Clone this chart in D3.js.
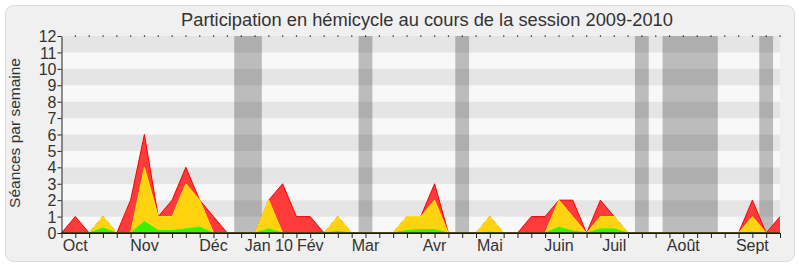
<html>
<head>
<meta http-equiv="content-type" content="text/html; charset=UTF8">
<title>Participation en hémicycle</title>
<script src="https://cdnjs.cloudflare.com/ajax/libs/d3/7.8.5/d3.min.js"></script>
<style type="text/css">
body { margin: 0; padding: 0; background: #fff; overflow: hidden; }
text { font-family: "Liberation Sans", Arial, sans-serif; fill: #333; }
</style>
</head>
<body>
<div id="chart"></div>
<script type="text/javascript">

// one value per week, session 2009-2010 (week 0 .. 52)
var presence = [0,1,0,1,0,2,6,1,2,4,2,1,0,0,0,2,3,1,1,0,1,0,0,0,0,1,1,3,0,0,0,1,0,0,1,1,2,2,0,2,1,0,0,0,0,0,0,0,0,0,2,0,1];
var interventions = [0,0,0,1,0,0,4,1,1,3,2,0,0,0,0,2,0,0,0,0,1,0,0,0,0,1,1,2,0,0,0,1,0,0,0,0,2,1,0,1,1,0,0,0,0,0,0,0,0,0,1,0,0];
var questions = [0,0,0,0.3,0,0,0.7,0.15,0.15,0.25,0.35,0,0,0,0,0.25,0,0,0,0,0.1,0,0,0,0,0.15,0.2,0.2,0,0,0,0.05,0,0,0,0,0.35,0.12,0,0.25,0.25,0,0,0,0,0,0,0,0,0,0.05,0,0];

// holidays (week ranges)
var vacances = [[12.5,14.5],[21.5,22.5],[28.5,29.5],[41.5,42.5],[43.5,47.5],[50.5,51.5]];

var moisLabels = ["Oct","Nov","Déc","Jan 10","Fév","Mar","Avr","Mai","Juin","Juil","Août","Sept"];
var moisSemaines = [1,6,11,15,18,22,27,31,36,40,45,50];

var yTicks = d3.range(0, 13);

var width = 800, height = 267;
var plotLeft = 61.5, plotRight = 780, plotTop = 36, plotBottom = 233;

var svg = d3.select("#chart").append("svg")
    .attr("width", width)
    .attr("height", height);

// frame
svg.append("rect")
    .attr("x", 5.5).attr("y", 5.5)
    .attr("width", 789).attr("height", 256)
    .attr("rx", 8)
    .attr("fill", "#f0f0f0")
    .attr("stroke", "#dcdcdc");

svg.append("text")
    .attr("x", 427).attr("y", 26)
    .attr("text-anchor", "middle")
    .style("font-size", "18.3px")
    .text("Participation en hémicycle au cours de la session 2009-2010");

var x = d3.scaleLinear().domain([0, presence.length - 1]).range([plotLeft, plotRight]);
var y = d3.scaleLinear().domain([0, 12]).range([plotBottom, plotTop]);

// horizontal stripes
svg.append("g").selectAll("rect")
    .data(d3.range(0, 12))
    .enter().append("rect")
    .attr("x", plotLeft)
    .attr("y", function(d){ return y(d + 1); })
    .attr("width", plotRight - plotLeft)
    .attr("height", function(d){ return y(d) - y(d + 1); })
    .attr("fill", function(d){ return d % 2 ? "#e5e5e5" : "#f8f8f8"; });

// holidays
svg.append("g").selectAll("rect")
    .data(vacances)
    .enter().append("rect")
    .attr("x", function(d){ return x(d[0]); })
    .attr("y", plotTop)
    .attr("width", function(d){ return x(d[1]) - x(d[0]); })
    .attr("height", plotBottom - plotTop)
    .attr("fill", "rgba(0,0,0,0.24)");

function drawArea(values, fill, stroke) {
    var area = d3.area()
        .x(function(d, i){ return x(i); })
        .y0(y(0))
        .y1(function(d){ return y(d); });
    var line = d3.line()
        .x(function(d, i){ return x(i); })
        .y(function(d){ return y(d); });
    svg.append("path").datum(values)
        .attr("d", area)
        .attr("fill", fill);
    svg.append("path").datum(values)
        .attr("d", line)
        .attr("fill", "none")
        .attr("stroke", stroke)
        .attr("stroke-width", 1);
}

drawArea(presence, "#ff3a3a", "#ff0000");
drawArea(interventions, "#ffd310", "#ffee00");
drawArea(questions, "#3cf000", "#22ff00");

// top dots
svg.append("g").selectAll("rect")
    .data(d3.range(1, presence.length))
    .enter().append("rect")
    .attr("x", function(d){ return x(d) - 0.5; })
    .attr("y", plotTop - 0.5)
    .attr("width", 1.2).attr("height", 1.2)
    .attr("fill", "#000");

// y axis
var yAxis = svg.append("g")
    .attr("transform", "translate(" + plotLeft + ",0)")
    .call(d3.axisLeft(y).tickValues(yTicks).tickSize(4).tickSizeOuter(0).tickFormat(d3.format("d")));
yAxis.select(".domain").attr("stroke", "#222");
yAxis.selectAll(".tick line").attr("stroke", "#222");
yAxis.selectAll("text").style("font-size", "16px").style("font-family", "'Liberation Sans', Arial, sans-serif")
    .attr("fill", "#333").attr("x", -5).attr("dy", "0.35em");

// x axis
var xAxis = svg.append("g")
    .attr("transform", "translate(0," + plotBottom + ")")
    .call(d3.axisBottom(x).tickValues(d3.range(0, presence.length)).tickSize(5).tickSizeOuter(0).tickFormat(""));
xAxis.select(".domain").attr("stroke", "#111");
xAxis.selectAll(".tick line").attr("stroke", "#222");

// dark baseline over the zero strokes
svg.append("line")
    .attr("x1", plotLeft).attr("x2", plotRight)
    .attr("y1", y(0)).attr("y2", y(0))
    .attr("stroke", "#2b1a12")
    .attr("stroke-width", 1.6);

svg.append("g").selectAll("text")
    .data(moisLabels)
    .enter().append("text")
    .attr("x", function(d, i){ return x(moisSemaines[i]); })
    .attr("y", 251)
    .attr("text-anchor", "middle")
    .style("font-size", "16px")
    .text(function(d){ return d; });

svg.append("text")
    .attr("transform", "translate(20,133) rotate(-90)")
    .attr("text-anchor", "middle")
    .style("font-size", "15.5px")
    .text("Séances par semaine");

</script>
</body>
</html>
